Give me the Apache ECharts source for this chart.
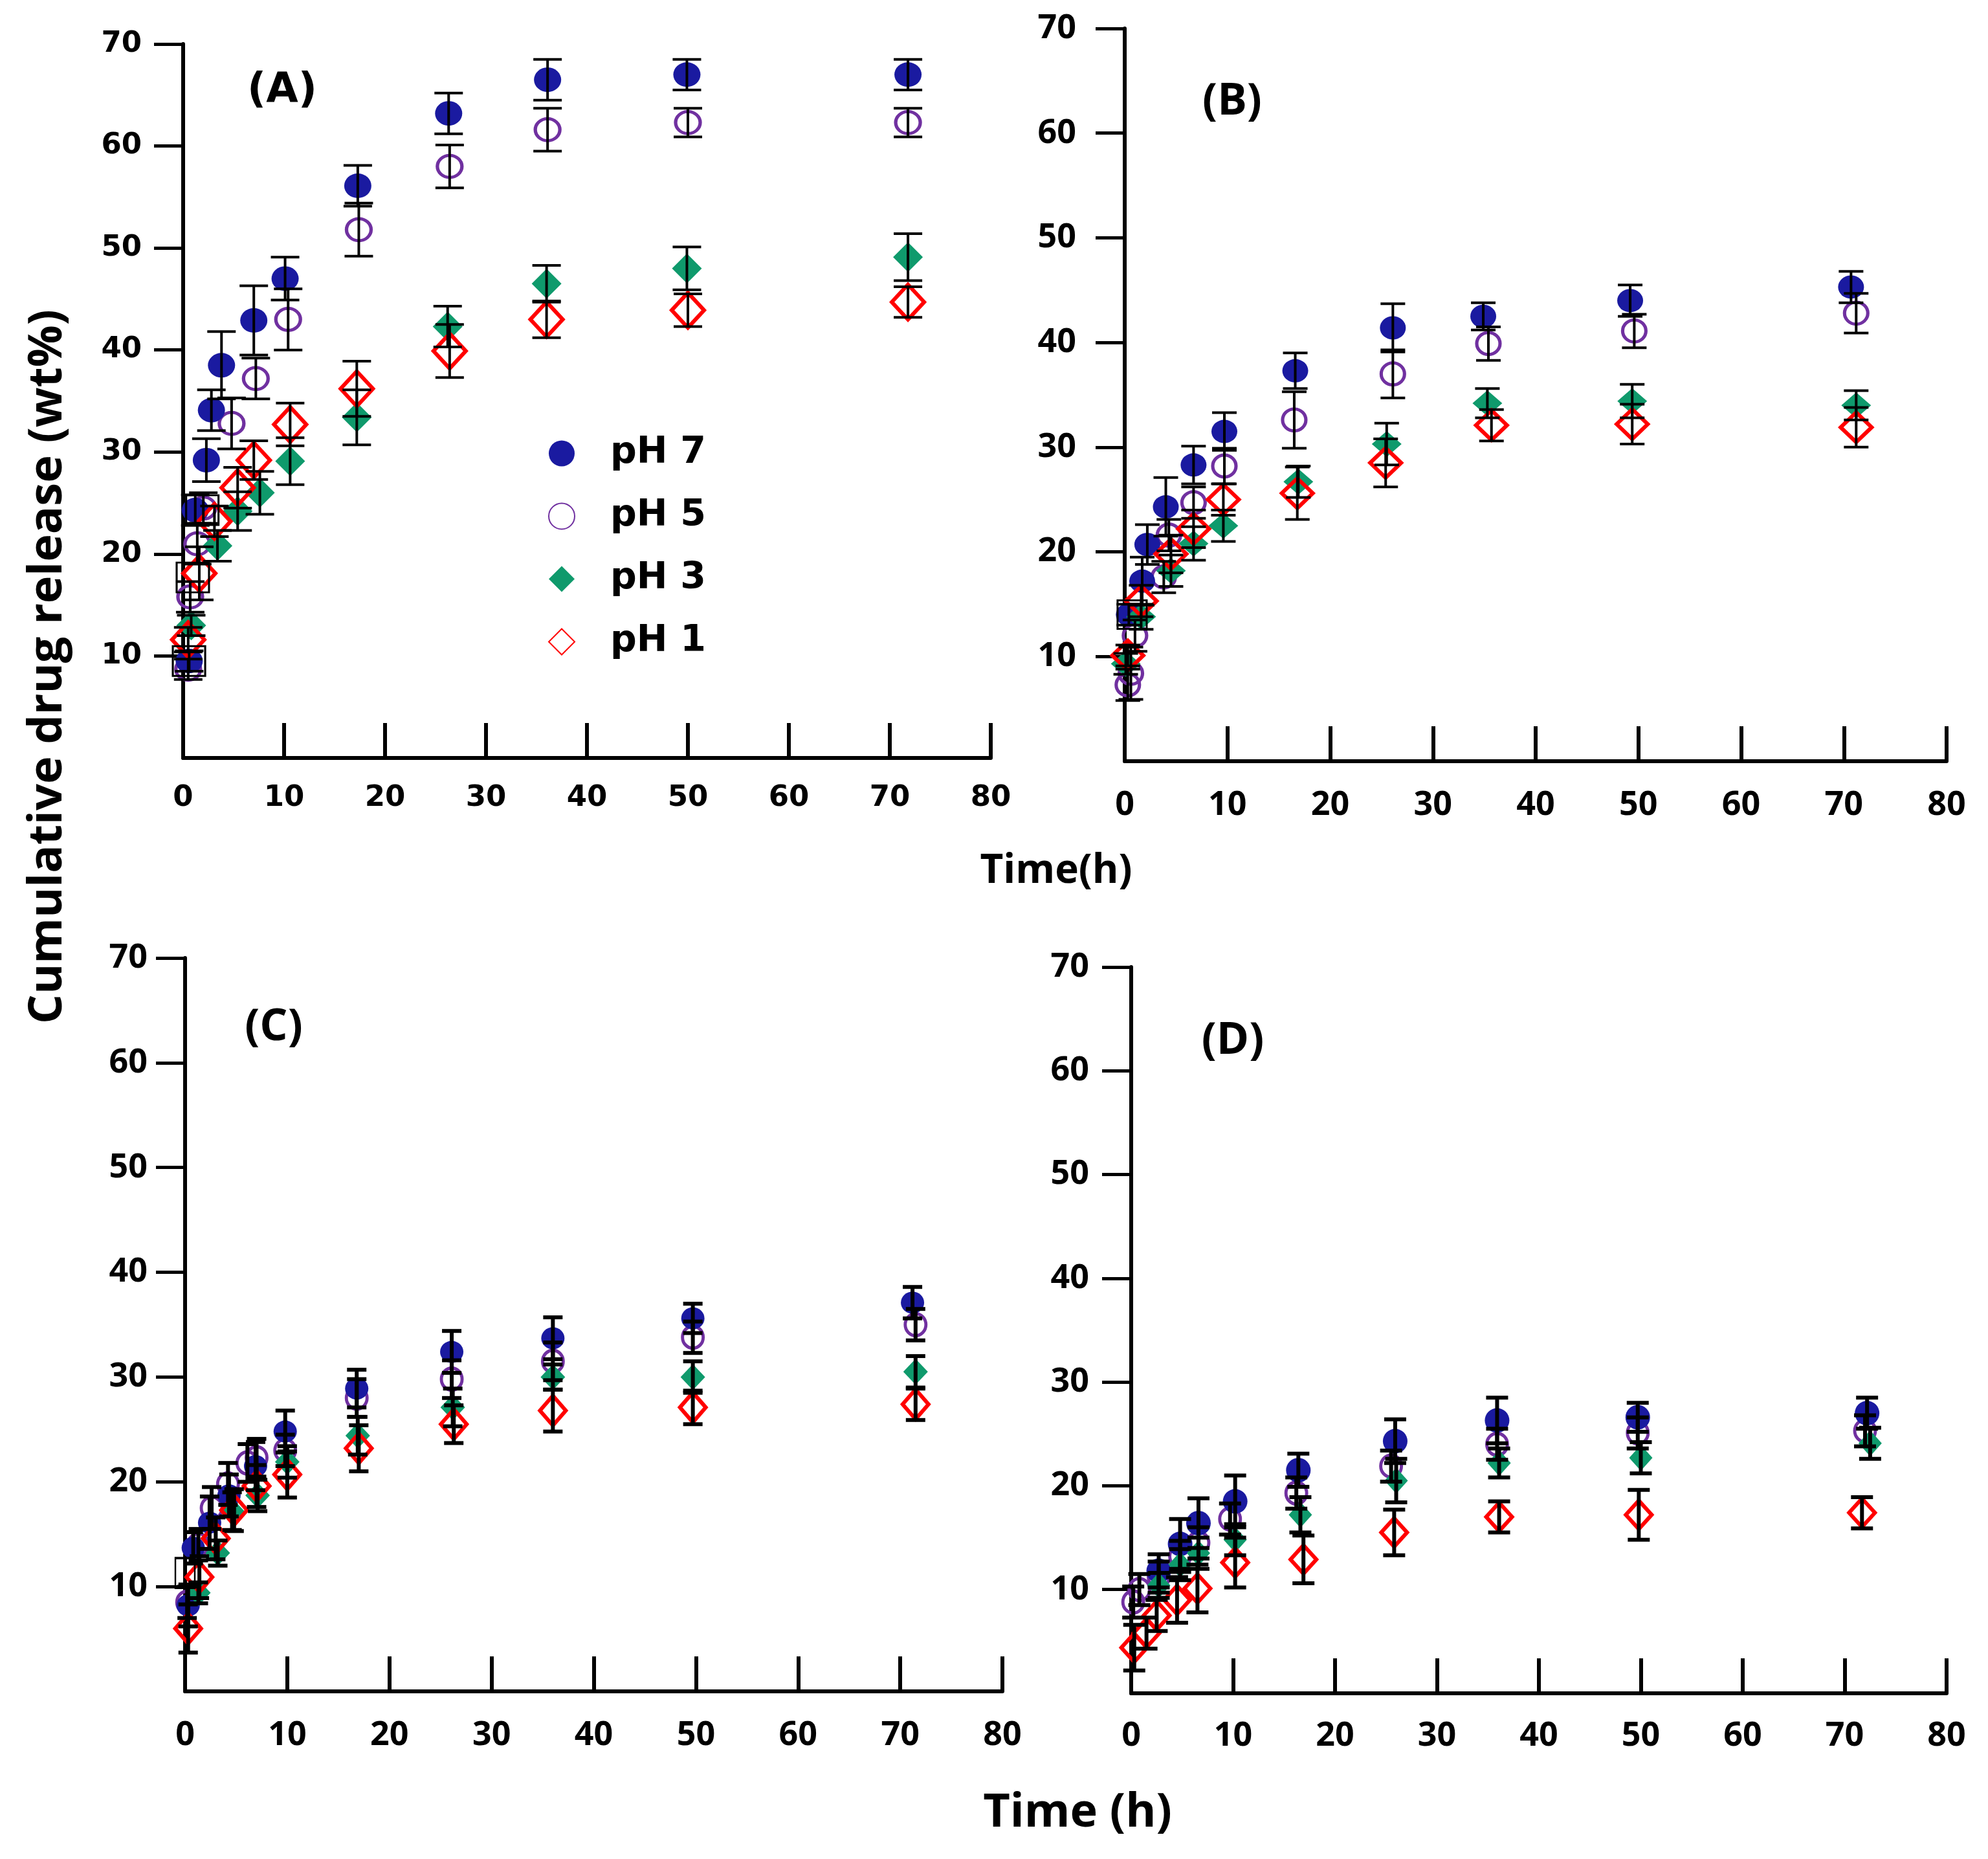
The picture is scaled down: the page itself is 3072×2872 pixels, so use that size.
<!DOCTYPE html>
<html>
<head>
<meta charset="utf-8">
<script src="https://cdn.jsdelivr.net/npm/echarts@6.0.0/dist/echarts.min.js"></script>
<style>
html,body{margin:0;padding:0;background:#ffffff;}
#chart{width:3072px;height:2872px;}
</style>
</head>
<body>
<div id="chart"></div>
<script>
// ---------- DATA: [time (h), cumulative release (wt%), error] ----------
const seriesNames = ['pH 7', 'pH 5', 'pH 3', 'pH 1'];
const xTicks = [0, 10, 20, 30, 40, 50, 60, 70, 80];
const yTicks = [10, 20, 30, 40, 50, 60, 70];

// Panel A
const A_pH7 = [[0.6,9.5,1.0],[1.2,24.3,1.5],[2.3,29.2,2.1],[2.8,34.1,2.0],[3.8,38.5,3.3],[7.0,42.9,3.4],[10.1,47.0,2.1],[17.3,56.1,2.0],[26.3,63.2,2.0],[36.1,66.5,2.0],[49.9,67.0,1.5],[71.8,67.0,1.5]];
const A_pH5 = [[0.5,8.7,1.0],[0.7,15.8,1.5],[1.4,21.0,2.0],[2.0,24.5,1.5],[4.8,32.8,2.5],[7.2,37.2,2.0],[10.4,43.0,3.0],[17.4,51.8,2.6],[26.4,58.0,2.1],[36.1,61.6,2.1],[50.0,62.3,1.4],[71.8,62.3,1.4]];
const A_pH3 = [[0.8,13.0,1.0],[3.4,20.8,1.5],[5.4,24.2,1.9],[7.6,26.0,2.1],[10.6,29.1,2.3],[17.2,33.4,2.7],[26.2,42.3,2.0],[36.0,46.5,1.8],[49.9,48.0,2.1],[71.8,49.1,2.3]];
const A_pH1 = [[0.5,11.6,1.2],[1.6,18.1,2.6],[3.1,23.2,1.5],[5.4,26.5,2.0],[7.0,29.2,1.9],[10.6,32.7,2.1],[17.2,36.2,2.7],[26.4,39.9,2.6],[36.0,43.0,1.8],[50.0,43.9,1.6],[71.8,44.7,1.5]];
const A_boxes = [[0.58,9.5],[0.96,17.7],[1.9,24.3]];

// Panel B
const B_pH7 = [[0.4,14.0,1.0],[1.7,17.2,2.3],[2.2,20.7,1.9],[4.0,24.3,2.8],[6.7,28.3,1.8],[9.7,31.5,1.8],[16.6,37.3,1.7],[26.1,41.4,2.3],[34.9,42.5,1.3],[49.2,44.0,1.5],[70.7,45.3,1.5]];
const B_pH5 = [[0.3,7.3,1.5],[0.6,8.4,2.5],[1.0,12.0,1.5],[3.8,17.6,1.5],[4.3,21.6,1.5],[6.7,24.7,1.5],[9.7,28.2,1.7],[16.5,32.6,2.7],[26.1,37.0,2.3],[35.4,39.9,1.6],[49.6,41.1,1.6],[71.2,42.8,1.9]];
const B_pH3 = [[0.1,9.3,1.0],[1.6,13.8,1.2],[4.5,18.2,1.5],[6.7,20.8,1.6],[9.6,22.5,1.5],[16.9,26.7,1.5],[25.5,30.3,2.0],[35.3,34.2,1.4],[49.4,34.4,1.6],[71.2,34.0,1.4]];
const B_pH1 = [[0.3,10.1,1.0],[1.6,15.3,1.5],[4.5,19.8,1.8],[6.7,22.2,1.8],[9.6,25.0,1.5],[16.8,25.6,2.5],[25.4,28.5,2.3],[35.7,32.1,1.5],[49.4,32.2,1.9],[71.2,31.9,1.9]];
const B_boxes = [[0.72,14.0]];

// Panel C
const C_pH7 = [[0.3,8.2,2.0],[0.8,13.7,1.5],[2.4,16.1,2.5],[4.3,18.7,2.0],[6.9,21.5,2.3],[9.8,24.8,2.0],[16.8,28.9,1.8],[26.1,32.4,2.0],[36.0,33.7,2.0],[49.7,35.6,1.4],[71.2,37.1,1.5]];
const C_pH5 = [[0.2,8.5,1.5],[1.3,14.0,1.5],[2.6,17.5,2.0],[4.2,19.8,2.0],[6.1,21.8,1.8],[7.0,22.3,1.8],[9.8,23.0,1.5],[16.8,28.0,1.8],[26.1,29.8,1.8],[36.0,31.5,1.8],[49.7,33.8,1.5],[71.5,35.0,1.5]];
const C_pH3 = [[1.3,9.4,1.0],[3.2,13.2,1.2],[4.6,17.2,1.8],[7.1,18.7,1.5],[10.0,21.9,1.5],[16.9,24.4,1.8],[26.2,27.1,1.8],[36.0,30.0,1.2],[49.7,30.0,1.5],[71.5,30.5,1.5]];
const C_pH1 = [[0.3,6.0,2.3],[1.4,10.9,2.0],[3.0,14.6,2.0],[4.8,17.3,2.0],[7.0,19.6,2.0],[10.0,20.7,2.2],[17.0,23.2,2.2],[26.3,25.5,1.8],[36.0,26.8,2.0],[49.7,27.1,1.6],[71.5,27.4,1.5]];
const C_boxes = [[0.0,11.3]];

// Panel D
const D_pH7 = [[2.7,11.8,1.6],[4.8,14.4,2.4],[6.6,16.4,2.4],[10.2,18.5,2.5],[16.4,21.5,1.6],[25.9,24.3,2.1],[35.9,26.3,2.2],[49.7,26.6,1.4],[72.2,27.0,1.5]];
const D_pH5 = [[0.2,8.8,1.5],[0.8,10.0,1.5],[2.7,11.2,1.5],[4.8,13.2,1.5],[6.6,14.5,1.5],[9.7,16.8,1.5],[16.2,19.3,1.5],[25.5,21.9,1.5],[35.9,24.0,1.5],[49.7,25.1,1.5],[72.0,25.3,1.5]];
const D_pH3 = [[2.7,10.4,1.2],[4.8,12.4,1.5],[6.6,13.5,1.5],[10.2,14.8,1.5],[16.6,17.2,1.7],[26.0,20.5,2.1],[36.1,22.2,1.4],[50.0,22.7,1.5],[72.5,24.1,1.5]];
const D_pH1 = [[0.3,4.4,2.2],[1.5,5.8,1.5],[2.5,7.5,1.5],[4.5,9.0,2.2],[6.5,10.1,2.3],[10.2,12.6,2.4],[16.9,12.9,2.3],[25.8,15.5,2.2],[36.1,17.0,1.5],[49.8,17.2,2.4],[71.7,17.4,1.5]];

// ---------- STYLE ----------
const COLORS = { p7: '#1a1aa0', p5: '#7030a0', p3: '#0f9a6c', p1: '#ff0000' };

const panels = [
  { label: '(A)', labelPos: [436, 141], labelFont: 'bold 64px "DejaVu Sans"',
    grid: { left: 283, top: 68, width: 1248, height: 1103 },
    data: [A_pH7, A_pH5, A_pH3, A_pH1], boxes: A_boxes, boxSize: [50, 46],
    sizes: [[42, 38], [38, 34], [46, 46], [50, 54]],
    cap: 22, errW: 4, axisFont: 'DejaVu Sans', axisFontSize: 45, yMargin: 64, xMargin: 40 },
  { label: '(B)', labelPos: [1904, 158], labelFont: 'bold 68px "Open Sans"',
    grid: { left: 1738, top: 44, width: 1270, height: 1132 },
    data: [B_pH7, B_pH5, B_pH3, B_pH1], boxes: B_boxes, boxSize: [45, 44],
    sizes: [[40, 36], [36, 34], [46, 40], [48, 46]],
    cap: 19, errW: 4, axisFont: 'Open Sans', axisFontSize: 52, yMargin: 75, xMargin: 42 },
  { label: '(C)', labelPos: [423, 1588], labelFont: 'bold 68px "Open Sans"',
    grid: { left: 286, top: 1480, width: 1263, height: 1133 },
    data: [C_pH7, C_pH5, C_pH3, C_pH1], boxes: C_boxes, boxSize: [30, 46],
    sizes: [[36, 34], [32, 34], [38, 40], [40, 46]],
    cap: 15, errW: 6, axisFont: 'Open Sans', axisFontSize: 52, yMargin: 58, xMargin: 42 },
  { label: '(D)', labelPos: [1905, 1609], labelFont: 'bold 68px "Open Sans"',
    grid: { left: 1748, top: 1494, width: 1260, height: 1122 },
    data: [D_pH7, D_pH5, D_pH3, D_pH1], boxes: [], boxSize: [30, 46],
    sizes: [[38, 38], [32, 34], [36, 40], [40, 44]],
    cap: 17, errW: 6, axisFont: 'Open Sans', axisFontSize: 52, yMargin: 65, xMargin: 40 }
];

function symbolStyle(k) {
  if (k === 0) return { symbol: 'circle', itemStyle: { color: COLORS.p7, opacity: 1 } };
  if (k === 1) return { symbol: 'circle', itemStyle: { color: 'rgba(255,255,255,0)', borderColor: COLORS.p5, borderWidth: 5, opacity: 1 } };
  if (k === 2) return { symbol: 'diamond', itemStyle: { color: COLORS.p3, opacity: 1 } };
  return { symbol: 'diamond', itemStyle: { color: 'rgba(255,255,255,0)', borderColor: COLORS.p1, borderWidth: 6, opacity: 1 } };
}

function errorRenderer(capHalf, lw) {
  return function (params, api) {
    const x = api.value(0), y = api.value(1), e = api.value(2);
    const top = api.coord([x, y + e]);
    const bot = api.coord([x, y - e]);
    const st = { stroke: '#000', lineWidth: lw };
    return {
      type: 'group',
      children: [
        { type: 'line', shape: { x1: top[0], y1: top[1], x2: bot[0], y2: bot[1] }, style: st },
        { type: 'line', shape: { x1: top[0] - capHalf, y1: top[1], x2: top[0] + capHalf, y2: top[1] }, style: st },
        { type: 'line', shape: { x1: bot[0] - capHalf, y1: bot[1], x2: bot[0] + capHalf, y2: bot[1] }, style: st }
      ]
    };
  };
}

const grids = [], xAxes = [], yAxes = [], series = [], graphics = [];
const drawOrder = [1, 0, 2, 3]; // purple under blue, then green, red

panels.forEach((p, i) => {
  grids.push(Object.assign({ containLabel: false }, p.grid));
  xAxes.push({
    type: 'value', gridIndex: i, min: 0, max: 80, interval: 10,
    axisLine: { show: true, onZero: false, lineStyle: { color: '#000', width: 6 } },
    axisTick: { show: true, inside: true, length: 54, lineStyle: { color: '#000', width: 6 } },
    splitLine: { show: false },
    axisLabel: { margin: p.xMargin, color: '#000', fontFamily: p.axisFont, fontWeight: 'bold', fontSize: p.axisFontSize,
                 customValues: xTicks }
  });
  yAxes.push({
    type: 'value', gridIndex: i, min: 0, max: 70, interval: 10,
    axisLine: { show: true, onZero: false, lineStyle: { color: '#000', width: 6 } },
    axisTick: { show: true, inside: false, length: 45, lineStyle: { color: '#000', width: 5 }, customValues: yTicks },
    splitLine: { show: false },
    axisLabel: { margin: p.yMargin, color: '#000', fontFamily: p.axisFont, fontWeight: 'bold', fontSize: p.axisFontSize,
                 customValues: yTicks, formatter: v => (v === 0 ? '' : String(v)) }
  });
  drawOrder.forEach((k, order) => {
    const s = symbolStyle(k);
    series.push({
      type: 'scatter', name: seriesNames[k], xAxisIndex: i, yAxisIndex: i,
      data: p.data[k], encode: { x: 0, y: 1 },
      symbol: s.symbol, symbolSize: p.sizes[k], itemStyle: s.itemStyle,
      z: 3 + order, silent: true
    });
  });
  if (p.boxes.length) {
    series.push({
      type: 'scatter', xAxisIndex: i, yAxisIndex: i, data: p.boxes,
      symbol: 'rect', symbolSize: p.boxSize,
      itemStyle: { color: 'rgba(255,255,255,0)', borderColor: '#000', borderWidth: 3, opacity: 1 },
      z: 8, silent: true
    });
  }
  [0, 1, 2, 3].forEach(k => {
    series.push({
      type: 'custom', xAxisIndex: i, yAxisIndex: i, data: p.data[k],
      encode: { x: 0, y: 1 }, renderItem: errorRenderer(p.cap, p.errW),
      z: 10, silent: true, clip: false
    });
  });
  graphics.push({
    type: 'text', x: p.labelPos[0], y: p.labelPos[1],
    style: { text: p.label, font: p.labelFont, fill: '#000', align: 'center', verticalAlign: 'middle',
             textAlign: 'center', textVerticalAlign: 'middle' }
  });
});

graphics.push({
  type: 'text', x: 74, y: 1030, rotation: Math.PI / 2,
  style: { text: 'Cumulative drug release (wt%)', font: 'bold 72px "Open Sans"', fill: '#000',
           align: 'center', verticalAlign: 'middle', textAlign: 'center', textVerticalAlign: 'middle' }
});
graphics.push({
  type: 'text', x: 1632, y: 1346,
  style: { text: 'Time(h)', font: 'bold 62px "Open Sans"', fill: '#000',
           align: 'center', verticalAlign: 'middle', textAlign: 'center', textVerticalAlign: 'middle' }
});
graphics.push({
  type: 'text', x: 1665, y: 2801,
  style: { text: 'Time (h)', font: 'bold 72px "Open Sans"', fill: '#000',
           align: 'center', verticalAlign: 'middle', textAlign: 'center', textVerticalAlign: 'middle' }
});

const chart = echarts.init(document.getElementById('chart'), null, { renderer: 'canvas' });
chart.setOption({
  animation: false,
  backgroundColor: '#ffffff',
  grid: grids,
  xAxis: xAxes,
  yAxis: yAxes,
  legend: {
    data: seriesNames, orient: 'vertical', left: 842, top: 667,
    itemWidth: 40, itemHeight: 40, itemGap: 40, selectedMode: false,
    itemStyle: { opacity: 1 },
    textStyle: { fontFamily: 'DejaVu Sans', fontWeight: 'bold', fontSize: 57, lineHeight: 56, color: '#000',
                 padding: [0, 0, 0, 50] }
  },
  series: series,
  graphic: graphics
});
</script>
</body>
</html>
